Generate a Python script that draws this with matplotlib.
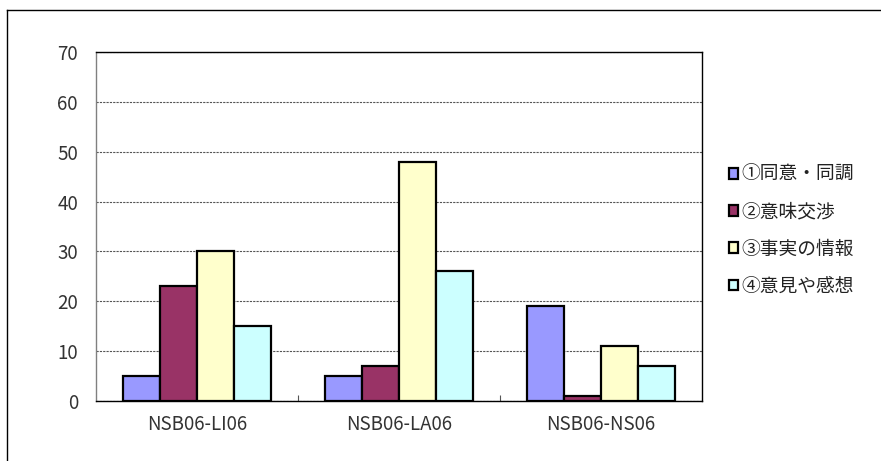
import matplotlib
matplotlib.use("Agg")
import matplotlib.pyplot as plt
from matplotlib.lines import Line2D
import numpy as np

plt.rcParams['font.family'] = ['Noto Sans CJK JP', 'DejaVu Sans']

categories = ["NSB06-LI06", "NSB06-LA06", "NSB06-NS06"]
series_names = ["①同意・同調", "②意味交渉", "③事実の情報", "④意見や感想"]
series_values = [
    [5, 5, 19],
    [23, 7, 1],
    [30, 48, 11],
    [15, 26, 7],
]
colors = ["#9999FF", "#993366", "#FFFFCC", "#CCFFFF"]
yticks = [0, 10, 20, 30, 40, 50, 60, 70]

fig = plt.figure(figsize=(8.81, 4.61), dpi=100)
ax = fig.add_axes([96/881, 1-401/461, 606/881, 349/461])

x = np.arange(len(categories))
w = 0.182
for i, (name, vals, c) in enumerate(zip(series_names, series_values, colors)):
    ax.bar(x + (i - 1.5) * w, vals, width=w, color=c, edgecolor='black',
           linewidth=1.6, label=name, zorder=3)

ax.set_xlim(-0.5, len(categories) - 0.5)
ax.set_ylim(0, 70)
ax.set_yticks(yticks)
ax.set_yticklabels([str(v) for v in yticks])
ax.set_xticks(x)
ax.set_xticklabels(categories)
ax.tick_params(axis='x', which='major', length=0, pad=9, labelsize=13.5, labelcolor='#333333')
ax.tick_params(axis='y', length=0, pad=13, labelsize=13.5, labelcolor='#333333')
ax.set_xticks(x[:-1] + 0.5, minor=True)
ax.tick_params(axis='x', which='minor', direction='in', length=4, width=0.8, color='#555555')

ax.yaxis.grid(True, linestyle=(0, (2, 1)), color='#555555', linewidth=0.8, zorder=0)
ax.set_axisbelow(True)
for s in ['top', 'right', 'bottom']:
    ax.spines[s].set_color('black')
    ax.spines[s].set_linewidth(1.0)
ax.spines['left'].set_color('#808080')
ax.spines['left'].set_linewidth(1.0)

leg = fig.legend(loc='upper left', bbox_to_anchor=(712/881, 1-147/461), frameon=False,
                 handlelength=0.5, handleheight=0.5, handletextpad=0.15,
                 labelspacing=0.87, fontsize=13.5)
for t in leg.get_texts():
    t.set_color('#222222')

# chart area border
fig.add_artist(Line2D([7/881, 7/881], [0, 1-10/461], transform=fig.transFigure, color='black', lw=1))
fig.add_artist(Line2D([7/881, 1], [1-10/461, 1-10/461], transform=fig.transFigure, color='black', lw=1))

fig.savefig("out.png", dpi=100)
